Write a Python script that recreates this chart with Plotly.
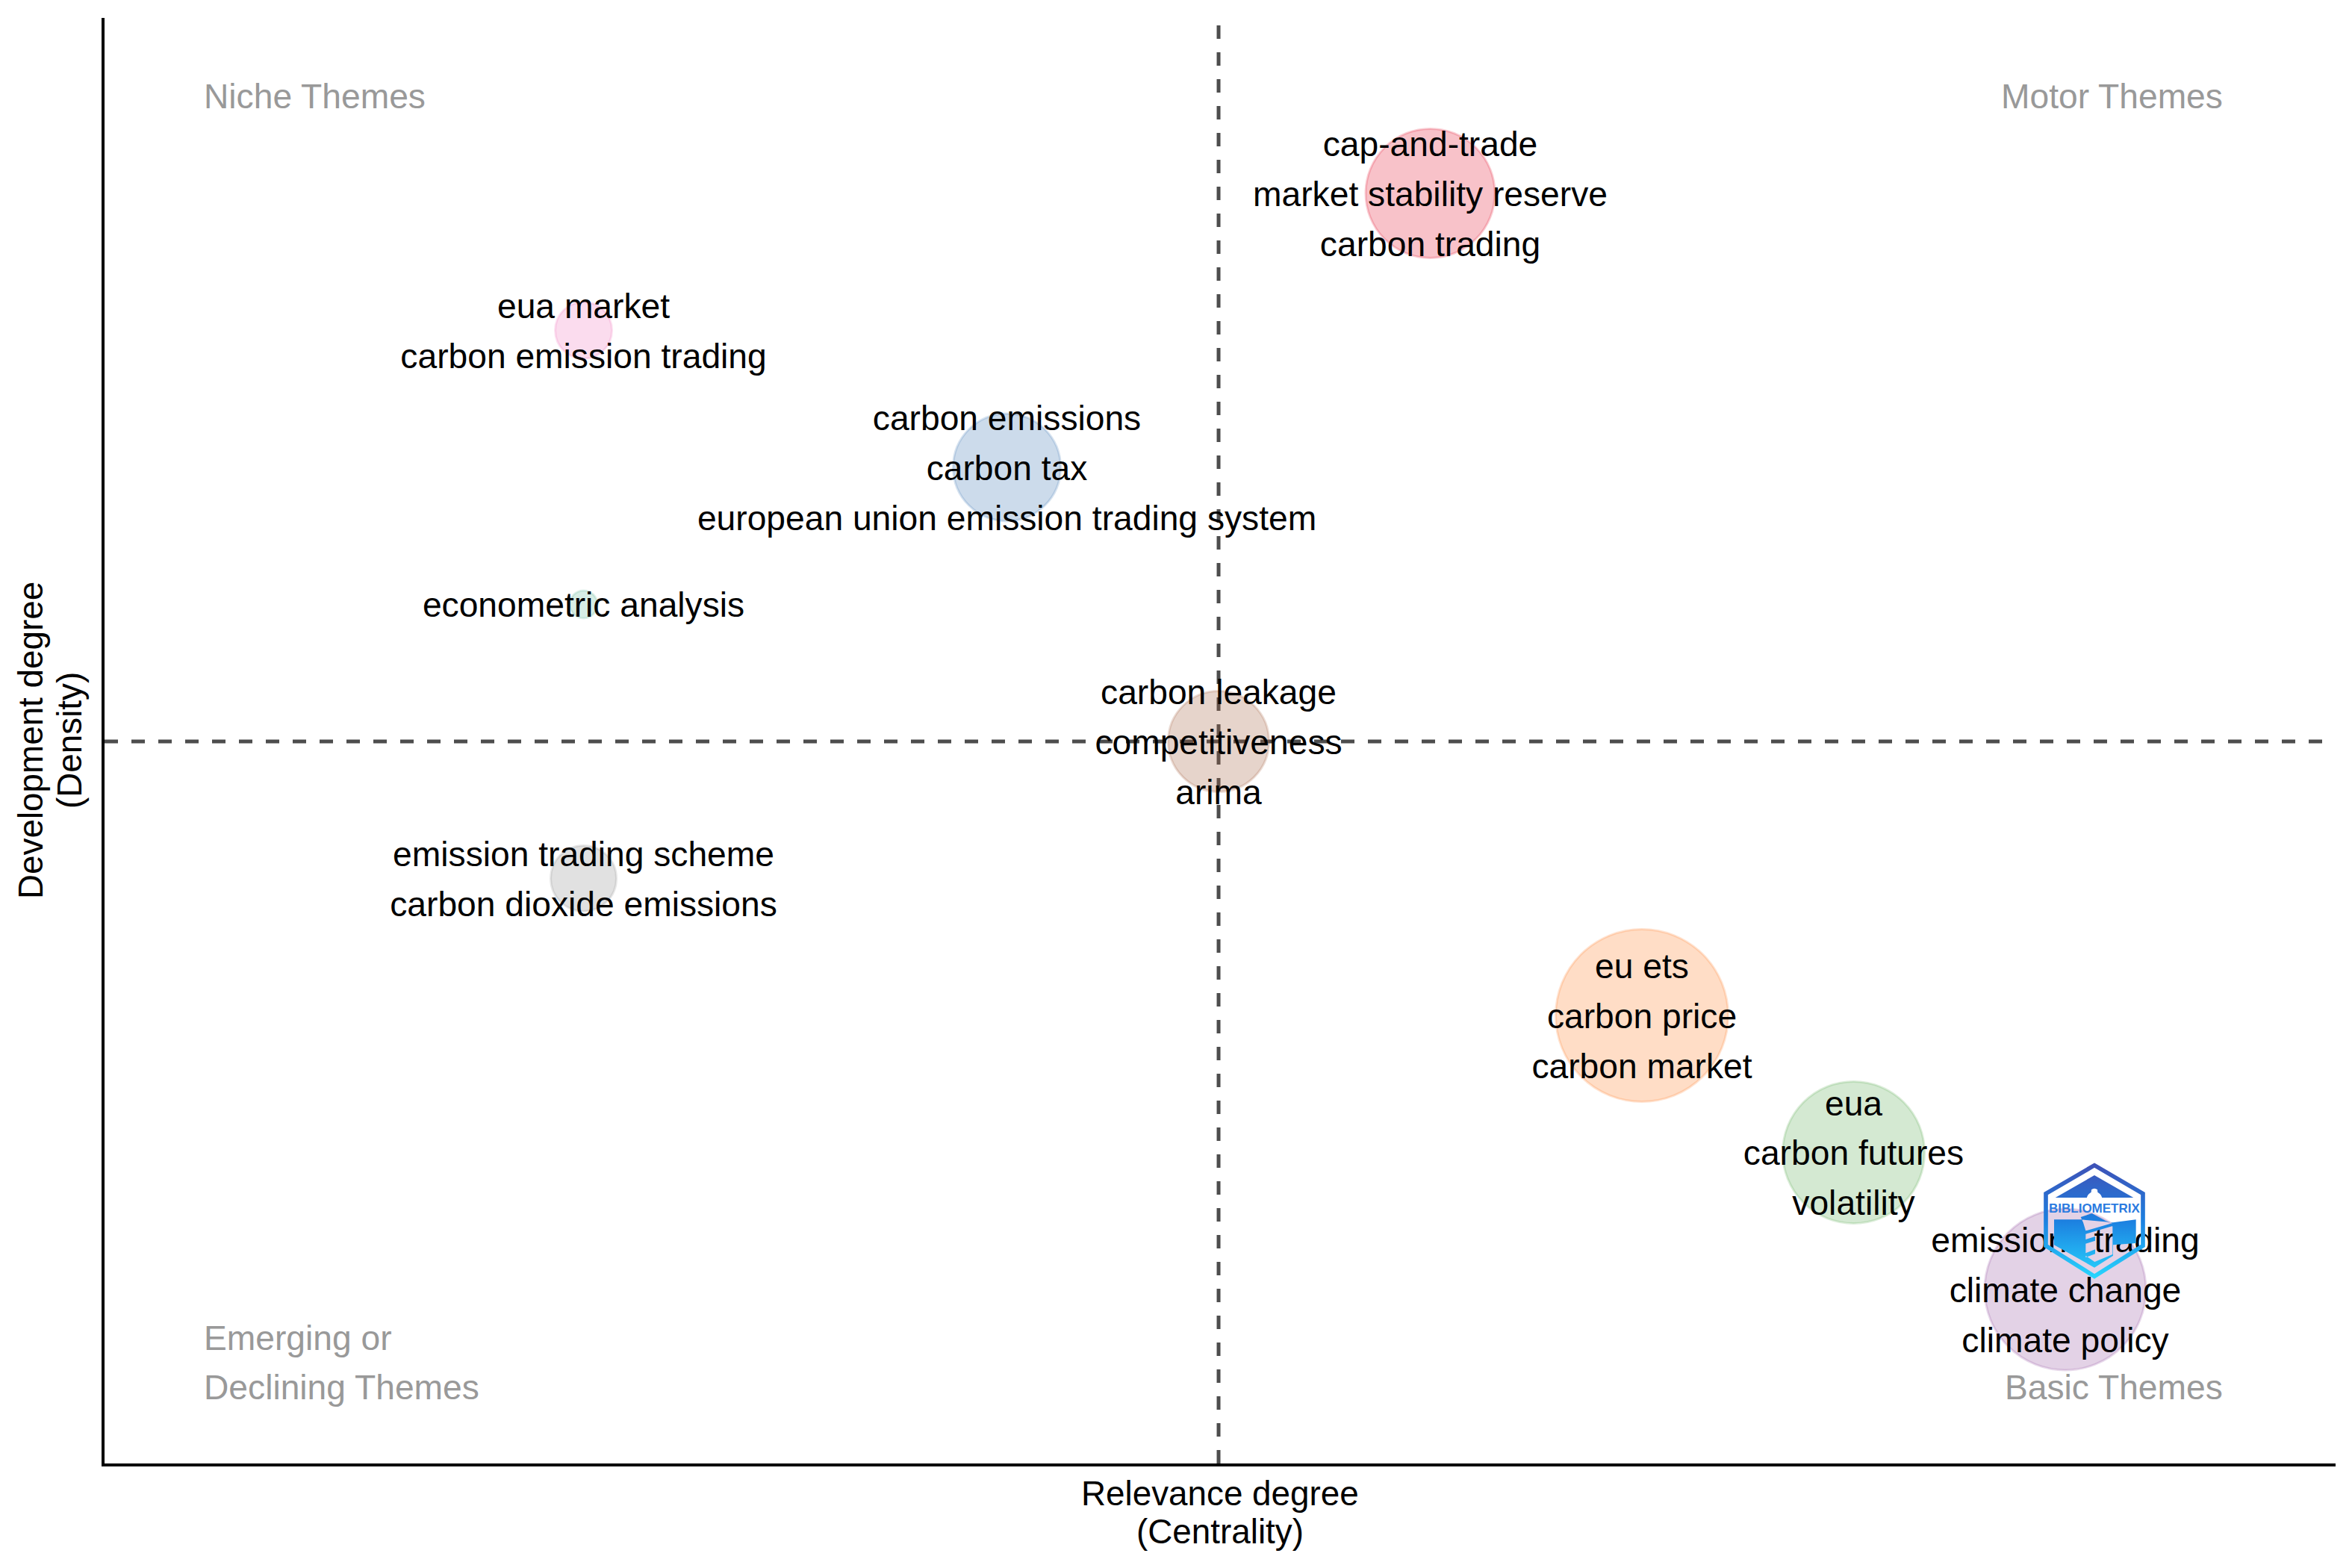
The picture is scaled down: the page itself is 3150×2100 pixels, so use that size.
import base64
import plotly.graph_objects as go

# --- data: thematic map, rank-based centrality / density ---
themes = [
    ["cap-and-trade", "market stability reserve", "carbon trading"],
    ["eua market", "carbon emission trading"],
    ["carbon emissions", "carbon tax", "european union emission trading system"],
    ["econometric analysis"],
    ["carbon leakage", "competitiveness", "arima"],
    ["emission trading scheme", "carbon dioxide emissions"],
    ["eu ets", "carbon price", "carbon market"],
    ["eua", "carbon futures", "volatility"],
    ["emissions trading", "climate change", "climate policy"],
]
centrality = [6, 2, 4, 2, 5, 2, 7, 8, 9]
density = [9, 8, 7, 6, 5, 4, 3, 2, 1]
bubble_px = [176, 79, 147, 40, 138, 91, 234, 193, 219]
base_rgb = ["228,28,55", "242,125,191", "68,122,182", "108,188,158", "162,95,62",
            "145,145,145", "255,128,45", "95,172,88", "152,88,162"]

quad_labels = ["Niche Themes", "Motor Themes", "Emerging or", "Declining Themes", "Basic Themes"]
quad_x = [0.20, 9.752, 0.20, 0.20, 9.752]
quad_y = [9.708, 9.708, 0.645, 0.285, 0.285]
quad_anchor = ["left", "right", "left", "left", "right"]

x_mean, y_mean = 5, 5
x_range = [-0.263, 10.277]
y_range = [-0.27, 10.28]
line_step = 0.3635  # spacing of label lines, density units
label_nudge = 0.03  # labels sit slightly below the bubble centre

FONT = "Liberation Sans, Arial, sans-serif"
FS = 46.2
TITLE_FS = 45.8
W, H = 3150, 2100
L, R, T, B = 140, 22, 24, 140


def px(v):
    return (v - L) / (W - R - L)


def py(v):
    return 1 - (v - T) / (H - B - T)


fig = go.Figure()

# quadrant dividers
fig.add_shape(type="line", xref="x", yref="paper", x0=x_mean, x1=x_mean, y0=0, y1=1, layer="below",
              line=dict(color="#4D4D4D", width=5, dash="18px,18px"))
fig.add_shape(type="line", xref="paper", yref="y", x0=0, x1=1, y0=y_mean, y1=y_mean, layer="below",
              line=dict(color="#4D4D4D", width=5, dash="18px,18px"))

# bubbles
fig.add_trace(go.Scatter(
    x=centrality, y=density, mode="markers", showlegend=False, hoverinfo="skip",
    marker=dict(
        size=[d - 3 for d in bubble_px], sizemode="diameter",
        color=[f"rgba({c},0.27)" for c in base_rgb], opacity=1,
        line=dict(color=[f"rgba({c},0.22)" for c in base_rgb], width=3),
    ),
))

# labels, one text item per line, stacked around each bubble
lx, ly, lt = [], [], []
for cx, cy, lines in zip(centrality, density, themes):
    for i, t in enumerate(lines):
        lx.append(cx)
        ly.append(cy - label_nudge + ((len(lines) - 1) / 2 - i) * line_step)
        lt.append(t)
fig.add_trace(go.Scatter(
    x=lx, y=ly, text=lt, mode="text", textposition="middle center", showlegend=False, hoverinfo="skip",
    textfont=dict(family=FONT, size=FS, color="black"),
))

# quadrant captions
for t, x, y, a in zip(quad_labels, quad_x, quad_y, quad_anchor):
    fig.add_annotation(x=x, y=y, xref="x", yref="y", text=t, showarrow=False, xanchor=a, yanchor="middle",
                       font=dict(family=FONT, size=FS, color="#999999"))

# axis titles (two lines each, tighter than a plotly line break)
title_font = dict(family=FONT, size=TITLE_FS, color="black")
fig.add_annotation(x=0.5, y=py(2001), xref="paper", yref="paper", text="Relevance degree", showarrow=False,
                   xanchor="center", yanchor="middle", font=title_font)
fig.add_annotation(x=0.5, y=py(2051), xref="paper", yref="paper", text="(Centrality)", showarrow=False,
                   xanchor="center", yanchor="middle", font=title_font)
fig.add_annotation(x=px(41), y=0.5, xref="paper", yref="paper", text="Development degree", showarrow=False,
                   textangle=-90, xanchor="center", yanchor="middle", font=title_font)
fig.add_annotation(x=px(93), y=0.5, xref="paper", yref="paper", text="(Density)", showarrow=False,
                   textangle=-90, xanchor="center", yanchor="middle", font=title_font)

# logo
logo_svg = """<svg xmlns="http://www.w3.org/2000/svg" viewBox="0 0 510 510" width="510" height="510">
<defs><linearGradient id="g" gradientUnits="userSpaceOnUse" x1="0" y1="20" x2="0" y2="490">
<stop offset="0" stop-color="#4050B5"/><stop offset="0.5" stop-color="#1C80E0"/><stop offset="1" stop-color="#28D8FF"/>
</linearGradient></defs>
<path d="M225 32 L420 146 L420 355 L225 478 L30 355 L30 146 Z" fill="none" stroke="url(#g)" stroke-width="17"/>
<path d="M225 72 L382 162 L68 162 Z" fill="url(#g)"/>
<path d="M213 130 Q225 120 237 130 L238 140 Q258 152 256 170 L194 170 Q192 152 212 140 Z" fill="#fff"/>
<path fill-rule="evenodd" fill="url(#g)" d="M63 250 L172 250 L300 262 L392 250 L392 345 L300 352 L300 395 L225 443 L63 352 Z
M170 240 L215 225 L270 255 L298 264 L298 390 L226 420 L190 395 L190 295 L180 262 Z
M190 295 L298 264 L298 276 L190 308 Z
M190 330 L228 318 L228 335 L190 347 Z
M190 385 L228 370 L228 388 L190 402 Z"/>
</svg>"""
fig.add_layout_image(
    source="data:image/svg+xml;base64," + base64.b64encode(logo_svg.encode()).decode(),
    xref="paper", yref="paper", x=px(2730), y=py(1550), sizex=170 / (W - R - L), sizey=170 / (H - B - T),
    xanchor="left", yanchor="top", sizing="stretch", layer="above",
)
fig.add_annotation(x=px(2805), y=py(1618), xref="paper", yref="paper", text="<b>BIBLIOMETRIX</b>", showarrow=False,
                   xanchor="center", yanchor="middle", font=dict(family=FONT, size=17, color="#2B7BE0"))

axis_common = dict(showgrid=False, zeroline=False, showticklabels=False, ticks="",
                   showline=True, linecolor="black", linewidth=4, mirror=False)
fig.update_layout(
    width=W, height=H, autosize=False,
    margin=dict(l=L, r=R, t=T, b=B, pad=0),
    paper_bgcolor="white", plot_bgcolor="white", showlegend=False,
    xaxis=dict(range=x_range, **axis_common),
    yaxis=dict(range=y_range, **axis_common),
)

fig.write_html("out.html", config=dict(displayModeBar=False),
               post_script="document.body.style.margin='0';document.body.style.overflow='hidden';")
